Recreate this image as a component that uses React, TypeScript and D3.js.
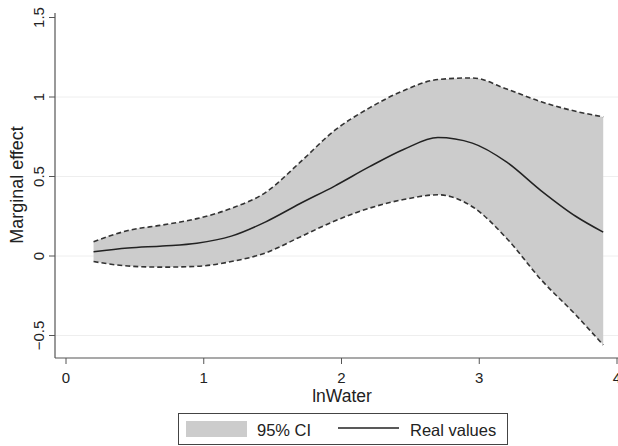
import React from 'react';
import * as d3 from 'd3';

// values
const xValues = [0.2, 0.45, 0.7, 0.95, 1.2, 1.45, 1.7, 1.95, 2.2, 2.45, 2.7, 2.95, 3.2, 3.45, 3.7, 3.9];
const effect = [0.027, 0.05, 0.063, 0.08, 0.125, 0.215, 0.33, 0.44, 0.56, 0.67, 0.745, 0.71, 0.59, 0.41, 0.25, 0.15];
const upper = [0.09, 0.16, 0.195, 0.235, 0.3, 0.4, 0.59, 0.79, 0.93, 1.04, 1.11, 1.12, 1.05, 0.97, 0.91, 0.875];
const lower = [-0.035, -0.063, -0.07, -0.065, -0.035, 0.02, 0.12, 0.22, 0.3, 0.355, 0.385, 0.31, 0.11, -0.15, -0.37, -0.56];

const xTicks = [0, 1, 2, 3, 4];
const yTicks = [-0.5, 0, 0.5, 1, 1.5];
const gridTicks = [-0.5, 0, 0.5, 1];

const font = '"Liberation Sans", Arial, sans-serif';

const App = () => {
  const width = 618;
  const height = 446;

  const x = d3.scaleLinear().domain([0, 4]).range([66, 617]);
  const y = d3.scaleLinear().domain([0, 1.5]).range([256, 17.5]);

  const rows = xValues.map((v, i) => ({ x: v, m: effect[i], hi: upper[i], lo: lower[i] }));

  const area = d3.area<any>()
    .x((d) => x(d.x))
    .y0((d) => y(d.lo))
    .y1((d) => y(d.hi))
    .curve(d3.curveMonotoneX);

  const line = (key: string) => d3.line<any>()
    .x((d) => x(d.x))
    .y((d) => y(d[key]))
    .curve(d3.curveMonotoneX)(rows);

  const axisX = 55;
  const axisY = 358;

  return (
    <svg width={width} height={height} style={{ position: 'absolute', left: 0, top: 0, background: '#fff' }}>
      {/* grid */}
      {gridTicks.map((t) => (
        <line key={'g' + t} x1={axisX} x2={width} y1={y(t)} y2={y(t)} stroke="#eeeeee" strokeWidth={1} />
      ))}

      {/* CI band */}
      <path d={area(rows) || ''} fill="#cccccc" stroke="none" />
      <path d={line('hi') || ''} fill="none" stroke="#333" strokeWidth={1.6} strokeDasharray="5,3" />
      <path d={line('lo') || ''} fill="none" stroke="#333" strokeWidth={1.6} strokeDasharray="5,3" />
      <path d={line('m') || ''} fill="none" stroke="#222" strokeWidth={1.5} />

      {/* axes */}
      <line x1={axisX} x2={axisX} y1={13} y2={axisY} stroke="#555" strokeWidth={1.2} />
      <line x1={axisX} x2={width} y1={axisY} y2={axisY} stroke="#555" strokeWidth={1.2} />

      {yTicks.map((t) => (
        <g key={'y' + t}>
          <line x1={axisX - 6} x2={axisX} y1={y(t)} y2={y(t)} stroke="#555" strokeWidth={1} />
          <text
            transform={`translate(${44},${y(t)}) rotate(-90)`}
            textAnchor="middle"
            fontFamily={font}
            fontSize={15}
            fill="#222"
          >
            {t === -0.5 ? '\u22120.5' : String(t)}
          </text>
        </g>
      ))}

      {xTicks.map((t) => (
        <g key={'x' + t}>
          <line x1={x(t)} x2={x(t)} y1={axisY} y2={axisY + 6} stroke="#555" strokeWidth={1} />
          <text x={x(t)} y={383} textAnchor="middle" fontFamily={font} fontSize={15} fill="#222">
            {t}
          </text>
        </g>
      ))}

      <text x={342} y={402} textAnchor="middle" fontFamily={font} fontSize={17.5} fill="#222">lnWater</text>
      <text
        transform={`translate(${23},${185}) rotate(-90)`}
        textAnchor="middle"
        fontFamily={font}
        fontSize={18}
        fill="#222"
      >
        Marginal effect
      </text>

      {/* legend */}
      <rect x={178.5} y={413.5} width={329} height={31} fill="#fff" stroke="#444" strokeWidth={1} />
      <rect x={186} y={421} width={61} height={16} fill="#cccccc" />
      <text x={257} y={436} fontFamily={font} fontSize={16.5} fill="#222">95% CI</text>
      <line x1={338} x2={399} y1={428} y2={428} stroke="#222" strokeWidth={1.5} />
      <text x={410} y={436} fontFamily={font} fontSize={16.5} fill="#222">Real values</text>
    </svg>
  );
};

export default App;
